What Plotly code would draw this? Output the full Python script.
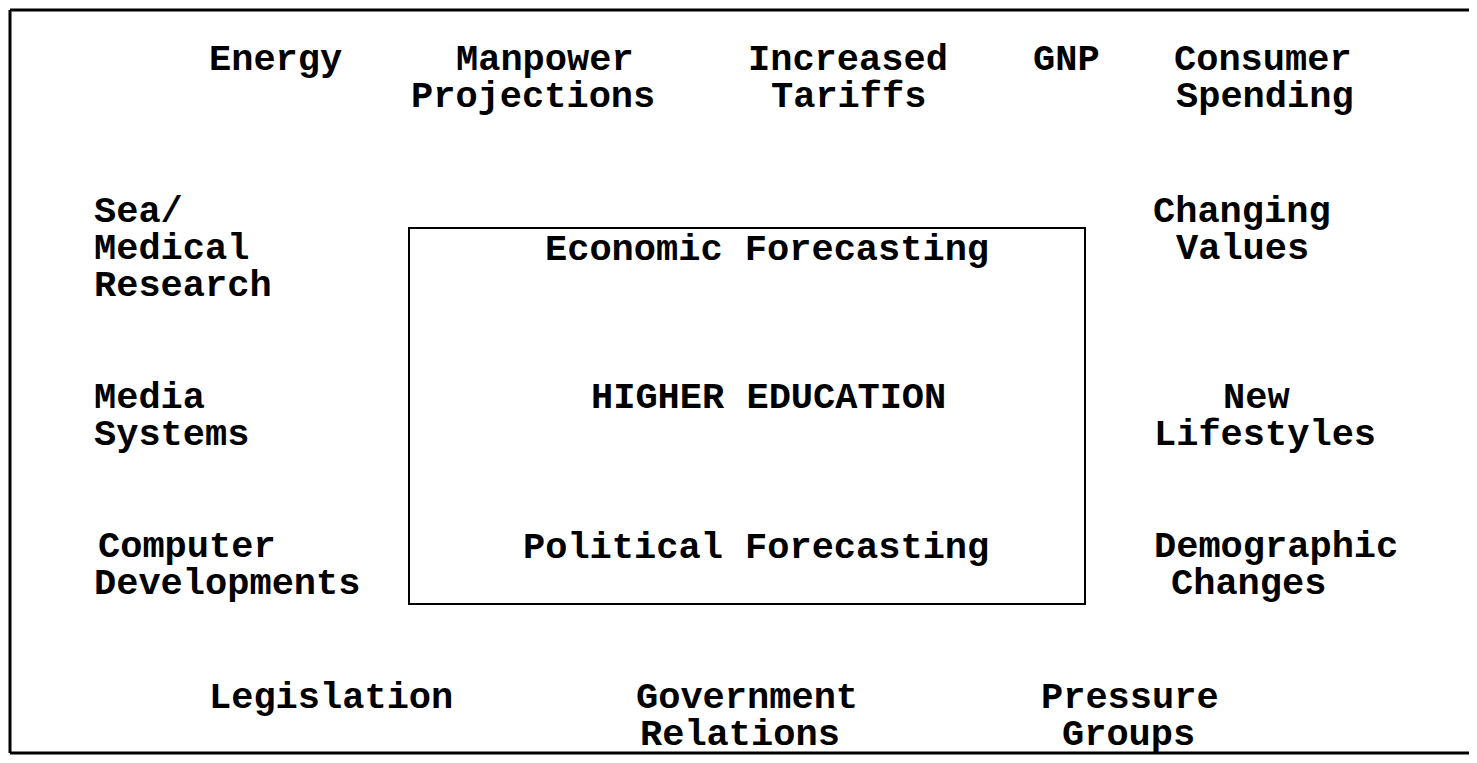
import plotly.graph_objects as go

# ---- content ----
top_labels = ["Energy", "Manpower\nProjections", "Increased\nTariffs", "GNP", "Consumer\nSpending"]
left_labels = ["Sea/\nMedical\nResearch", "Media\nSystems", "Computer\nDevelopments"]
right_labels = ["Changing\nValues", "New\nLifestyles", "Demographic\nChanges"]
center_labels = ["Economic Forecasting", "HIGHER EDUCATION", "Political Forecasting"]
bottom_labels = ["Legislation", "Government\nRelations", "Pressure\nGroups"]

# ---- layout (pixel coordinates in a 1477 x 763 window) ----
W, H = 1477, 763
OFF = 8              # page body margin
FW, FH = W - 2 * OFF, H - 2 * OFF   # figure size that fits without scrollbars
LINE = 37
FONT = dict(family="Liberation Mono, Courier New, monospace", size=37, color="black", weight="bold")

# each entry: (x of each line, y of first line)
top_pos = [([275], 60), ([545, 533], 60), ([848, 848], 60), ([1066], 60), ([1263, 1265], 60)]
left_pos = [([92, 92, 92], 212), ([92, 92], 398), ([96, 92], 547)]
right_pos = [([1242, 1242], 212), ([1256, 1265], 398), ([1276, 1248], 547)]
center_pos = [([767], 250), ([768], 398), ([756], 548)]
bottom_pos = [([331], 698), ([747, 740], 698), ([1130, 1128], 698)]

annotations = []

def add(labels, positions, anchor):
    for lab, (xs, y0) in zip(labels, positions):
        for i, line in enumerate(lab.split("\n")):
            annotations.append(dict(
                x=xs[i], y=y0 + i * LINE, xref="x", yref="y",
                text=line, showarrow=False, xanchor=anchor, yanchor="middle",
                font=FONT,
            ))

add(top_labels, top_pos, "center")
add(left_labels, left_pos, "left")
add(right_labels, right_pos, "center")
add(center_labels, center_pos, "center")
add(bottom_labels, bottom_pos, "center")

BOT = min(761, OFF + FH - 2)
shapes = [
    dict(type="line", x0=10, x1=OFF + FW, y0=10, y1=10, xref="x", yref="y",
         line=dict(color="black", width=3)),
    dict(type="line", x0=10, x1=10, y0=10, y1=BOT, xref="x", yref="y",
         line=dict(color="black", width=3)),
    dict(type="line", x0=10, x1=OFF + FW, y0=BOT, y1=BOT, xref="x", yref="y",
         line=dict(color="black", width=3)),
    dict(type="rect", x0=409, x1=1085, y0=228, y1=604, xref="x", yref="y",
         line=dict(color="black", width=2)),
]

fig = go.Figure()
fig.update_layout(
    width=FW, height=FH,
    margin=dict(l=0, r=0, t=0, b=0),
    paper_bgcolor="white", plot_bgcolor="white",
    xaxis=dict(range=[OFF, OFF + FW], visible=False, fixedrange=True),
    yaxis=dict(range=[OFF + FH, OFF], visible=False, fixedrange=True),
    annotations=annotations, shapes=shapes, showlegend=False,
)
fig.write_html("out.html")
